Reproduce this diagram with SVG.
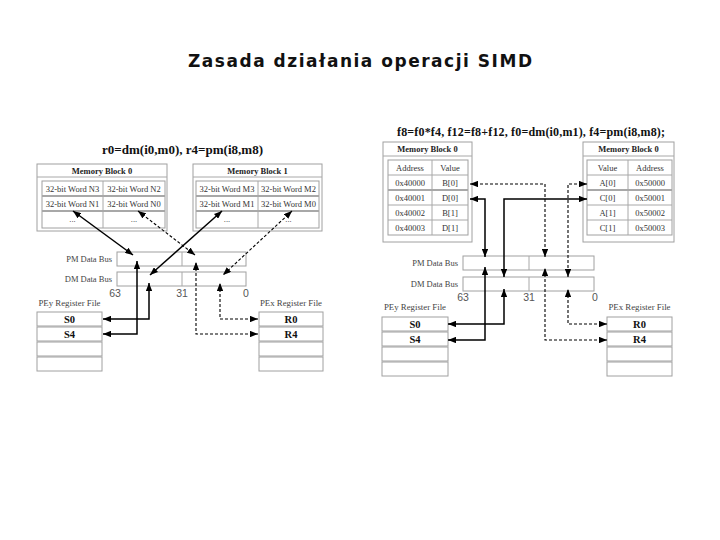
<svg xmlns="http://www.w3.org/2000/svg" width="720" height="540" viewBox="0 0 720 540">
<defs>
<marker id="ah" viewBox="0 0 10 8" refX="10" refY="4" markerWidth="8" markerHeight="6.4" markerUnits="userSpaceOnUse" orient="auto-start-reverse"><path d="M0,0 L10,4 L0,8 z" fill="#000"/></marker>
</defs>
<style>
.box{fill:#fff;stroke:#a0a0a0;stroke-width:1}
.ln{stroke:#a8a8a8;stroke-width:1;fill:none}
.thk{stroke:#a8a8a8;stroke-width:2;fill:none}
.t{font-family:"Liberation Serif","Times New Roman",serif;font-size:8.5px;fill:#333;text-anchor:middle}
.h{font-family:"Liberation Serif","Times New Roman",serif;font-size:8.5px;font-weight:bold;fill:#222;text-anchor:middle}
.r{font-family:"Liberation Serif","Times New Roman",serif;font-size:10.5px;font-weight:bold;fill:#111;text-anchor:middle}
.bus{font-family:"Liberation Serif","Times New Roman",serif;font-size:8.5px;fill:#444;text-anchor:end}
.lab{font-family:"Liberation Serif","Times New Roman",serif;font-size:8.8px;fill:#444;text-anchor:middle}
.bit{font-family:"Liberation Sans",Arial,sans-serif;font-size:10.5px;fill:#555;text-anchor:middle}
.sub{font-family:"Liberation Serif","Times New Roman",serif;font-weight:bold;fill:#111}
.s{stroke:#000;stroke-width:1.5;fill:none;marker-start:url(#ah);marker-end:url(#ah)}
.d{stroke:#000;stroke-width:1.1;stroke-dasharray:3,2;fill:none;marker-start:url(#ah);marker-end:url(#ah)}
</style>
<rect width="720" height="540" fill="#fff"/>
<text x="188" y="67" textLength="344" lengthAdjust="spacing" style="font-family:'DejaVu Sans',Verdana,sans-serif;font-size:17px;font-weight:bold;fill:#111">Zasada działania operacji SIMD</text>

<!-- LEFT DIAGRAM -->
<text class="sub" x="102" y="154" font-size="13" textLength="161" lengthAdjust="spacing">r0=dm(i0,m0), r4=pm(i8,m8)</text>

<g id="L-mem0">
<rect class="box" x="37" y="164" width="130" height="67"/>
<text class="h" x="102" y="173.5">Memory Block 0</text>
<line class="ln" x1="37" y1="177" x2="167" y2="177"/>
<rect class="box" x="42" y="181" width="123" height="47"/>
<line class="thk" x1="42" y1="196" x2="165" y2="196"/>
<line class="thk" x1="42" y1="211" x2="165" y2="211"/>
<line class="ln" x1="103" y1="181" x2="103" y2="228"/>
<text class="t" x="72.5" y="191.5">32-bit Word N3</text>
<text class="t" x="134" y="191.5">32-bit Word N2</text>
<text class="t" x="72.5" y="206.5">32-bit Word N1</text>
<text class="t" x="134" y="206.5">32-bit Word N0</text>
<text class="t" x="72.5" y="222">...</text>
<text class="t" x="134" y="222">...</text>
</g>

<g id="L-mem1">
<rect class="box" x="193" y="164" width="129" height="67"/>
<text class="h" x="257.5" y="173.5">Memory Block 1</text>
<line class="ln" x1="193" y1="177" x2="322" y2="177"/>
<rect class="box" x="196" y="181" width="123" height="47"/>
<line class="thk" x1="196" y1="196" x2="319" y2="196"/>
<line class="thk" x1="196" y1="211" x2="319" y2="211"/>
<line class="ln" x1="258" y1="181" x2="258" y2="228"/>
<text class="t" x="227" y="191.5">32-bit Word M3</text>
<text class="t" x="288.5" y="191.5">32-bit Word M2</text>
<text class="t" x="227" y="206.5">32-bit Word M1</text>
<text class="t" x="288.5" y="206.5">32-bit Word M0</text>
<text class="t" x="227" y="222">...</text>
<text class="t" x="288.5" y="222">...</text>
</g>

<g id="L-pmbus">
<rect class="box" x="117" y="252" width="129" height="14"/>
<line class="ln" x1="182" y1="252" x2="182" y2="266"/>
<text class="bus" x="112" y="262">PM Data Bus</text>
</g>
<g id="L-dmbus">
<rect class="box" x="117" y="272" width="129" height="14"/>
<line class="ln" x1="182" y1="272" x2="182" y2="286"/>
<text class="bus" x="112" y="282">DM Data Bus</text>
<text class="bit" x="115" y="297">63</text>
<text class="bit" x="182" y="297">31</text>
<text class="bit" x="246" y="297">0</text>
</g>

<g id="L-pey">
<text class="lab" x="69.5" y="306">PEy Register File</text>
<rect class="box" x="37" y="312" width="65" height="14"/>
<rect class="box" x="37" y="327" width="65" height="14"/>
<rect class="box" x="37" y="342" width="65" height="14"/>
<rect class="box" x="37" y="357" width="65" height="14"/>
<text class="r" x="69.5" y="323">S0</text>
<text class="r" x="69.5" y="338">S4</text>
</g>
<g id="L-pex">
<text class="lab" x="291" y="306">PEx Register File</text>
<rect class="box" x="259" y="312" width="64" height="14"/>
<rect class="box" x="259" y="327" width="64" height="14"/>
<rect class="box" x="259" y="342" width="64" height="14"/>
<rect class="box" x="259" y="357" width="64" height="14"/>
<text class="r" x="291" y="323">R0</text>
<text class="r" x="291" y="338">R4</text>
</g>

<!-- RIGHT DIAGRAM -->
<text class="sub" x="397" y="136" font-size="12" textLength="268" lengthAdjust="spacing">f8=f0*f4, f12=f8+f12, f0=dm(i0,m1), f4=pm(i8,m8);</text>

<g id="R-memA">
<rect class="box" x="383" y="142" width="89" height="100"/>
<text class="h" x="427.5" y="152">Memory Block 0</text>
<line class="ln" x1="383" y1="156" x2="472" y2="156"/>
<rect class="box" x="388" y="160" width="80" height="75"/>
<line class="ln" x1="388" y1="175" x2="468" y2="175"/>
<line class="thk" x1="388" y1="190" x2="468" y2="190"/>
<line class="ln" x1="388" y1="205" x2="468" y2="205"/>
<line class="ln" x1="388" y1="220" x2="468" y2="220"/>
<line class="ln" x1="432" y1="160" x2="432" y2="235"/>
<text class="t" x="410" y="170.5">Address</text>
<text class="t" x="450" y="170.5">Value</text>
<text class="t" x="410" y="185.5">0x40000</text>
<text class="t" x="450" y="185.5">B[0]</text>
<text class="t" x="410" y="200.5">0x40001</text>
<text class="t" x="450" y="200.5">D[0]</text>
<text class="t" x="410" y="215.5">0x40002</text>
<text class="t" x="450" y="215.5">B[1]</text>
<text class="t" x="410" y="230.5">0x40003</text>
<text class="t" x="450" y="230.5">D[1]</text>
</g>

<g id="R-memB">
<rect class="box" x="583" y="142" width="91" height="100"/>
<text class="h" x="628.5" y="152">Memory Block 0</text>
<line class="ln" x1="583" y1="156" x2="674" y2="156"/>
<rect class="box" x="587" y="160" width="85" height="75"/>
<line class="ln" x1="587" y1="175" x2="672" y2="175"/>
<line class="thk" x1="587" y1="190" x2="672" y2="190"/>
<line class="ln" x1="587" y1="205" x2="672" y2="205"/>
<line class="ln" x1="587" y1="220" x2="672" y2="220"/>
<line class="ln" x1="628" y1="160" x2="628" y2="235"/>
<text class="t" x="607.5" y="170.5">Value</text>
<text class="t" x="650" y="170.5">Address</text>
<text class="t" x="607.5" y="185.5">A[0]</text>
<text class="t" x="650" y="185.5">0x50000</text>
<text class="t" x="607.5" y="200.5">C[0]</text>
<text class="t" x="650" y="200.5">0x50001</text>
<text class="t" x="607.5" y="215.5">A[1]</text>
<text class="t" x="650" y="215.5">0x50002</text>
<text class="t" x="607.5" y="230.5">C[1]</text>
<text class="t" x="650" y="230.5">0x50003</text>
</g>

<g id="R-pmbus">
<rect class="box" x="463" y="256" width="131" height="14"/>
<line class="ln" x1="529" y1="256" x2="529" y2="270"/>
<text class="bus" x="458" y="266">PM Data Bus</text>
</g>
<g id="R-dmbus">
<rect class="box" x="463" y="277" width="131" height="14"/>
<line class="ln" x1="529" y1="277" x2="529" y2="291"/>
<text class="bus" x="458" y="287">DM Data Bus</text>
<text class="bit" x="463" y="301">63</text>
<text class="bit" x="529" y="301">31</text>
<text class="bit" x="595" y="301">0</text>
</g>

<g id="R-pey">
<text class="lab" x="415" y="310">PEy Register File</text>
<rect class="box" x="382" y="317" width="66" height="14"/>
<rect class="box" x="382" y="332" width="66" height="14"/>
<rect class="box" x="382" y="347" width="66" height="14"/>
<rect class="box" x="382" y="362" width="66" height="14"/>
<text class="r" x="415" y="328">S0</text>
<text class="r" x="415" y="343">S4</text>
</g>
<g id="R-pex">
<text class="lab" x="639.5" y="310">PEx Register File</text>
<rect class="box" x="607" y="317" width="65" height="14"/>
<rect class="box" x="607" y="332" width="65" height="14"/>
<rect class="box" x="607" y="347" width="65" height="14"/>
<rect class="box" x="607" y="362" width="65" height="14"/>
<text class="r" x="639.5" y="328">R0</text>
<text class="r" x="639.5" y="343">R4</text>
</g>

<g id="connectors">
<!-- left -->
<line class="s" x1="73" y1="211" x2="133" y2="255"/>
<line class="d" x1="138" y1="211" x2="195" y2="255"/>
<line class="s" x1="222" y1="211" x2="150" y2="275"/>
<line class="d" x1="292" y1="211" x2="223" y2="275"/>
<polyline class="s" points="103,334 137,334 137,261"/>
<polyline class="s" points="103,319 149,319 149,283"/>
<polyline class="d" points="258,334 196,334 196,262"/>
<polyline class="d" points="258,319 220,319 220,283"/>
<!-- right -->
<polyline class="s" points="470,199 485,199 485,257"/>
<polyline class="s" points="448,340 485,340 485,267"/>
<polyline class="d" points="470,184 545,184 545,257"/>
<polyline class="d" points="607,340 545,340 545,268"/>
<polyline class="s" points="587,199 504,199 504,277"/>
<polyline class="s" points="448,324 504,324 504,289"/>
<polyline class="d" points="587,184 568,184 568,277"/>
<polyline class="d" points="607,324 568,324 568,289"/>
</g>
</svg>
